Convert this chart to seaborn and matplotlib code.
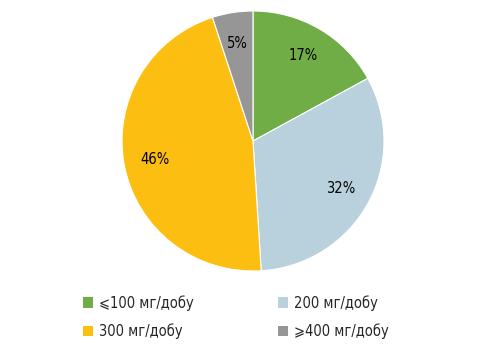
import matplotlib
matplotlib.use("Agg")
import matplotlib.pyplot as plt
import seaborn as sns
from matplotlib.patches import Patch

labels = ["⩽100 мг/добу", "200 мг/добу", "300 мг/добу", "⩾400 мг/добу"]
values = [17, 32, 46, 5]
colors = ["#70AD47", "#B9D1DD", "#FDBE12", "#969696"]

sns.set_theme(style="white")
plt.rcParams["font.family"] = ["Liberation Sans Narrow", "DejaVu Sans"]
plt.rcParams["font.stretch"] = "condensed"

pal = sns.color_palette(colors)

fig = plt.figure(figsize=(4.78, 3.54), dpi=100)
ax = fig.add_axes([122 / 478, 1 - 271 / 354, 262 / 478, 260 / 354])
wedges, texts, autotexts = ax.pie(
    values, colors=pal, startangle=90, counterclock=False,
    autopct="%d%%", pctdistance=0.76,
    wedgeprops=dict(linewidth=0.8, edgecolor="white"),
    textprops=dict(fontsize=10.5, color="black"),
)
ax.set_xlim(-1, 1)
ax.set_ylim(-1, 1)
ax.set_aspect("auto")

handles = [Patch(facecolor=c, edgecolor="none") for c in pal]
# legend order: row-wise (≤100, 200 / 300, ≥400)
order = [0, 2, 1, 3]
fig.legend([handles[i] for i in order], [labels[i] for i in order],
           ncol=2, loc="upper left", bbox_to_anchor=(83 / 478, 1 - 295 / 354),
           frameon=False, fontsize=10.5, handlelength=0.7, handleheight=0.7,
           handletextpad=0.4, columnspacing=5.75, labelspacing=0.9,
           borderaxespad=0, borderpad=0)

fig.savefig("out.png", dpi=100, facecolor="white")
